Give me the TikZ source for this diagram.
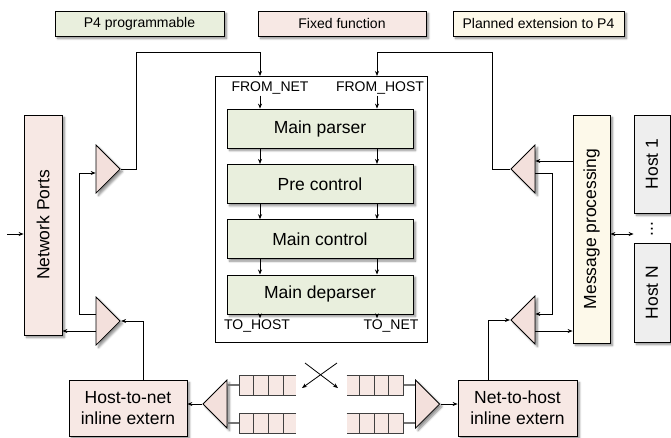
\documentclass[tikz,border=0pt]{standalone}
\usepackage{fontspec}
\setmainfont{Liberation Sans}
\usetikzlibrary{positioning, shapes.geometric, shadows.blur, calc, arrows.meta}

\definecolor{p4green}{HTML}{E9EFDD}
\definecolor{fixedpink}{HTML}{F7E8E4}
\definecolor{tripink}{HTML}{F3E0DC}
\definecolor{plancream}{HTML}{FDF9EA}
\definecolor{hostgray}{HTML}{EEEEEE}

\newcommand{\boxfont}{\fontsize{17.5}{21}\selectfont}
\newcommand{\portfont}{\fontsize{14}{16}\selectfont}
\newcommand{\legfont}{\fontsize{14}{16}\selectfont}

\tikzset{
  shadowed/.style={blur shadow={shadow xshift=2.5pt, shadow yshift=-2.5pt, shadow blur steps=6, shadow opacity=45}},
  legend/.style={draw, shadowed, minimum height=25pt, inner sep=0pt, font=\legfont},
  stage/.style={draw, fill=p4green, shadowed, minimum width=186pt, minimum height=39pt, font=\boxfont},
  fixed/.style={draw, fill=fixedpink, shadowed, inner sep=0pt, font=\boxfont},
  planned/.style={draw, fill=plancream, shadowed, inner sep=0pt, font=\boxfont},
  hostbox/.style={draw, fill=hostgray, shadowed, inner sep=0pt, font=\boxfont},
  port/.style={inner sep=1pt, font=\portfont},
  tri/.style={isosceles triangle, isosceles triangle stretches, draw, fill=tripink, shadowed,
    inner sep=0pt, minimum width=48pt, minimum height=24pt},
  queue/.style={fill=fixedpink, minimum width=57pt, minimum height=20pt, inner sep=0pt, outer sep=0pt},
  qline/.style={draw=black!75},
  qlink/.style={line width=1.6pt, black!55},
}

\begin{document}
\begin{tikzpicture}[x=1pt, y=-1pt, line width=0.8pt, >={Stealth[length=5pt,width=4pt]}]
\useasboundingbox (0,0) rectangle (671,437);

% legend
\node[legend, fill=p4green, minimum width=169pt] (legp4) at (139.5,23.5) {P4 programmable};
\node[legend, fill=fixedpink, minimum width=168pt] (legfixed) at (342,23.5) {Fixed function};
\node[legend, fill=plancream, minimum width=171pt] (legplan) at (538.5,23.5) {Planned extension to P4};

% pipeline
\node[draw, minimum width=212pt, minimum height=266pt] (pipe) at (321,209) {};
\node[port] (fromnet) at (270,88) {FROM\_NET};
\node[port] (fromhost) at (380,88) {FROM\_HOST};
\node[stage] (parser) at (320,128.5) {Main parser};
\node[stage, below=15.5pt of parser] (prectl) {Pre control};
\node[stage, below=15.5pt of prectl] (mainctl) {Main control};
\node[stage, below=15.5pt of mainctl] (deparser) {Main deparser};
\node[port] (tohost) at (257,326) {TO\_HOST};
\node[port] (tonet) at (391,326) {TO\_NET};
\coordinate (netin) at (260,76);
\coordinate (hostin) at (377,76);

% sides
\node[fixed, minimum width=38pt, minimum height=220pt] (ports) at (43,225) {\rotatebox{90}{Network Ports}};
\node[planned, minimum width=37pt, minimum height=228pt] (msgproc) at (591.5,229) {\rotatebox{90}{Message processing}};
\node[hostbox, minimum width=36pt, minimum height=98pt] (host1) at (652,164) {\rotatebox{90}{Host 1}};
\node[hostbox, minimum width=36pt, minimum height=99pt] (hostn) at (652,292.5) {\rotatebox{90}{Host N}};
\node[font=\boxfont] (hdots) at (652,229) {\rotatebox{90}{...}};

% triangles
\node[tri] (tnettop) at (106,169) {};
\node[tri] (tnetbot) at (106,321) {};
\node[tri, shape border rotate=180] (thosttop) at (525,169) {};
\node[tri, shape border rotate=180] (thostbot) at (525,320) {};
\node[tri, shape border rotate=180] (th2n) at (217,404) {};
\node[tri] (tn2h) at (425.5,404) {};

% inline externs
\node[fixed, minimum width=118pt, minimum height=56pt, align=center] (h2n) at (128,408) {Host-to-net\\inline extern};
\node[fixed, minimum width=119pt, minimum height=56pt, align=center] (n2h) at (517.5,408) {Net-to-host\\inline extern};

% queues
\node[queue] (qh1) at (267.5,385) {};
\node[queue] (qh2) at (267.5,423) {};
\node[queue] (qn1) at (375,385) {};
\node[queue] (qn2) at (375,423) {};
\foreach \q in {qh1,qh2} {
  \draw[qline] (\q.north east) -- (\q.north west) -- (\q.south west) -- (\q.south east);
  \foreach \i in {1,2,3}
    \draw[qline] ($(\q.north west)+(14.7*\i,0)$) -- ($(\q.south west)+(14.7*\i,0)$);
}
\foreach \q in {qn1,qn2} {
  \draw[qline] (\q.north west) -- (\q.north east) -- (\q.south east) -- (\q.south west);
  \foreach \i in {1,2,3}
    \draw[qline] ($(\q.north east)+(-14.7*\i,0)$) -- ($(\q.south east)+(-14.7*\i,0)$);
}

% into the pipeline
\coordinate (netbend) at (136,52);
\coordinate (hostbend) at (492,52);
\draw[->] (tnettop.east) -| (netbend) -| (netin);
\draw[->] (thosttop.west) -| (hostbend) -| (hostin);
\draw[->] (fromnet.south -| netin) -- (parser.north -| netin);
\draw[->] (fromhost.south -| hostin) -- (parser.north -| hostin);
\foreach \a/\b in {parser/prectl, prectl/mainctl, mainctl/deparser}
  \foreach \c in {netin, hostin}
    \draw[->] (\a.south -| \c) -- (\b.north -| \c);
\draw[->] (deparser.south -| netin) -- (tohost.north -| netin);
\draw[->] (deparser.south -| hostin) -- (tonet.north -| hostin);

% network side
\coordinate (netsrc) at (7,234);
\draw[->] (netsrc) -- (netsrc -| ports.west);
\coordinate (netout) at ($(tnetbot.west)+(0,10)$);
\draw[->] (netout) -- (netout -| ports.east);
\coordinate (netloop) at ($(tnetbot.west)+(0,-7)$);
\draw[->] (netloop) -- ++(-16,0) |- ($(tnettop.west)+(0,4)$);
\draw[->] ($(h2n.north)+(15,0)$) |- (tnetbot.east);
\draw[->] (th2n.west) -- (th2n.west -| h2n.east);
\foreach \q in {qh1,qh2}
  \draw[qlink] (\q.west) -- (\q.west -| th2n.east);

% host side
\foreach \q in {qn1,qn2}
  \draw[qlink] (\q.east) -- (\q.east -| tn2h.west);
\draw[->] (tn2h.east) -- (tn2h.east -| n2h.west);
\draw[->] ($(n2h.north)+(-29.5,0)$) |- (thostbot.west);
\coordinate (mpout) at ($(thosttop.east)+(0,-8)$);
\draw[->] (mpout -| msgproc.west) -- (mpout);
\coordinate (hostloop) at ($(thosttop.east)+(0,4)$);
\draw[->] (hostloop) -- ++(17,0) |- ($(thostbot.east)+(0,-6)$);
\coordinate (mpin) at ($(thostbot.east)+(0,11)$);
\draw[->] (mpin) -- (mpin -| msgproc.west);
\coordinate (hostlink) at ($(msgproc.east)+(0,5)$);
\draw[<->] (hostlink) -- (hostlink -| host1.west);

% queue swap
\coordinate (xtl) at (305,363);
\coordinate (xtr) at (337,363);
\coordinate (xbl) at (302,388);
\coordinate (xbr) at (338,388);
\draw[->] (xtr) -- (xbl);
\draw[->] (xtl) -- (xbr);

\end{tikzpicture}
\end{document}
